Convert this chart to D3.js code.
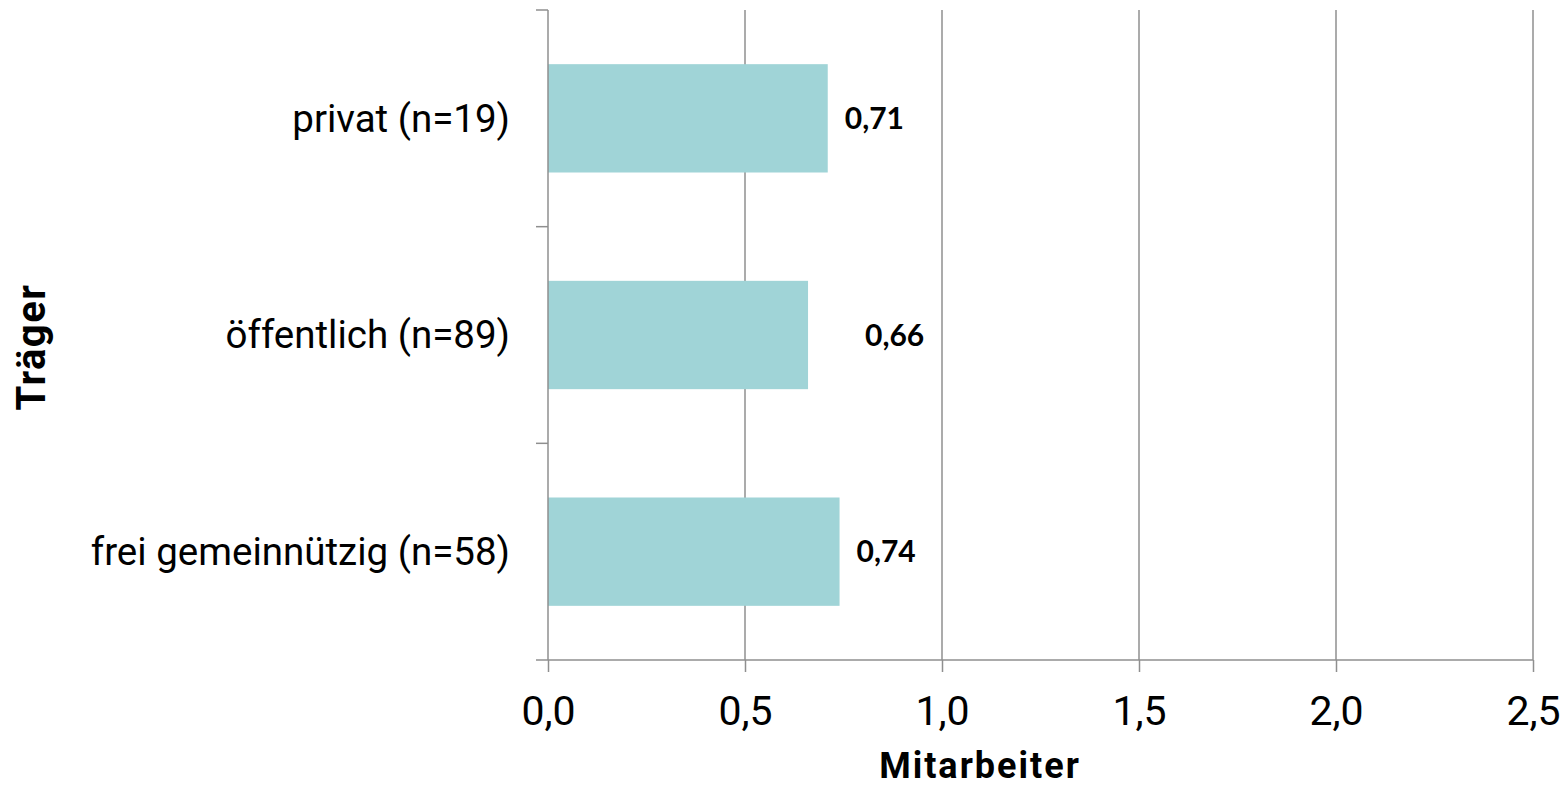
<!DOCTYPE html>
<html>
<head>
<meta charset="utf-8">
<script src="https://cdn.jsdelivr.net/npm/d3@7"></script>
<style>
  html, body { margin: 0; padding: 0; background: #ffffff; }
  svg { display: block; }
  .cat { font-family: Roboto, "Open Sans", sans-serif; font-size: 38.5px; fill: #000; }
  .title { font-family: Roboto, sans-serif; font-weight: bold; fill: #000; }
  .value { font-family: Lato, Roboto, sans-serif; font-weight: bold; font-size: 30px; fill: #000; }
</style>
</head>
<body>
<svg id="chart" width="1564" height="787"></svg>
<script>
// Mitarbeiter je Träger
const categories = ["privat (n=19)", "öffentlich (n=89)", "frei gemeinnützig (n=58)"];
const values = [0.71, 0.66, 0.74];
const valueLabels = ["0,71", "0,66", "0,74"];
const xTicks = [0, 0.5, 1.0, 1.5, 2.0, 2.5];
const xTickLabels = ["0,0", "0,5", "1,0", "1,5", "2,0", "2,5"];
const xTitle = "Mitarbeiter";
const yTitle = "Träger";

// layout
const plotLeft = 548, plotRight = 1533, plotTop = 10, plotBottom = 660;
const labelGap = [17, 57, 17];
const gridColor = "#8f8f8f";
const barColor = "#a0d4d7";

const svg = d3.select("#chart");

const x = d3.scaleLinear().domain([0, 2.5]).range([plotLeft, plotRight]);
const y = d3.scaleBand().domain(categories).range([plotTop, plotBottom])
  .paddingInner(0.5).paddingOuter(0.25);

// vertical gridlines
svg.append("g").selectAll("line")
  .data(xTicks.filter(d => d > 0))
  .join("line")
  .attr("x1", d => x(d)).attr("x2", d => x(d))
  .attr("y1", plotTop).attr("y2", plotBottom)
  .attr("stroke", gridColor).attr("stroke-width", 1.5);

// bars
svg.append("g").selectAll("rect")
  .data(categories)
  .join("rect")
  .attr("x", x(0))
  .attr("y", d => y(d))
  .attr("width", (d, i) => x(values[i]) - x(0))
  .attr("height", y.bandwidth())
  .attr("fill", barColor);

// x axis
const xAxis = d3.axisBottom(x)
  .tickValues(xTicks)
  .tickFormat((d, i) => xTickLabels[i])
  .tickSize(12)
  .tickSizeOuter(0)
  .tickPadding(24);
const gx = svg.append("g").attr("transform", `translate(0,${plotBottom})`).call(xAxis);
gx.select(".domain").remove();
gx.append("line")
  .attr("x1", plotLeft - 12).attr("x2", plotRight)
  .attr("y1", 0).attr("y2", 0)
  .attr("stroke", gridColor).attr("stroke-width", 1.5);
gx.selectAll(".tick line").attr("stroke", gridColor).attr("stroke-width", 1.5);
gx.selectAll(".tick text").attr("fill", "#000")
  .style("font-size", "41px").style("font-family", "Roboto, sans-serif");

// y axis: line with tick marks on the band boundaries
const gy = svg.append("g");
gy.append("line")
  .attr("x1", plotLeft).attr("x2", plotLeft)
  .attr("y1", plotTop).attr("y2", plotBottom)
  .attr("stroke", gridColor).attr("stroke-width", 1.5);
const boundaries = categories.map(c => y(c) - y.step() * y.paddingInner() / 2);
gy.selectAll("line.bt")
  .data(boundaries)
  .join("line")
  .attr("class", "bt")
  .attr("x1", plotLeft - 12).attr("x2", plotLeft)
  .attr("y1", d => d).attr("y2", d => d)
  .attr("stroke", gridColor).attr("stroke-width", 1.5);

// category labels
gy.selectAll("text.cat")
  .data(categories)
  .join("text")
  .attr("class", "cat")
  .attr("x", 510)
  .attr("y", d => y(d) + y.bandwidth() / 2)
  .attr("dy", "0.35em")
  .attr("text-anchor", "end")
  .text(d => d);

// value labels
svg.append("g").selectAll("text")
  .data(categories)
  .join("text")
  .attr("class", "value")
  .attr("x", (d, i) => x(values[i]) + labelGap[i])
  .attr("y", d => y(d) + y.bandwidth() / 2)
  .attr("dy", "0.35em")
  .text((d, i) => valueLabels[i]);

// axis titles
svg.append("text")
  .attr("class", "title")
  .attr("x", 980)
  .attr("y", 778)
  .attr("text-anchor", "middle")
  .style("font-size", "36px")
  .style("letter-spacing", "2px")
  .text(xTitle);

svg.append("text")
  .attr("class", "title")
  .attr("transform", `translate(45,${(plotTop + plotBottom) / 2 + 12}) rotate(-90)`)
  .attr("text-anchor", "middle")
  .style("font-size", "40px")
  .style("letter-spacing", "1.5px")
  .text(yTitle);
</script>
</body>
</html>
